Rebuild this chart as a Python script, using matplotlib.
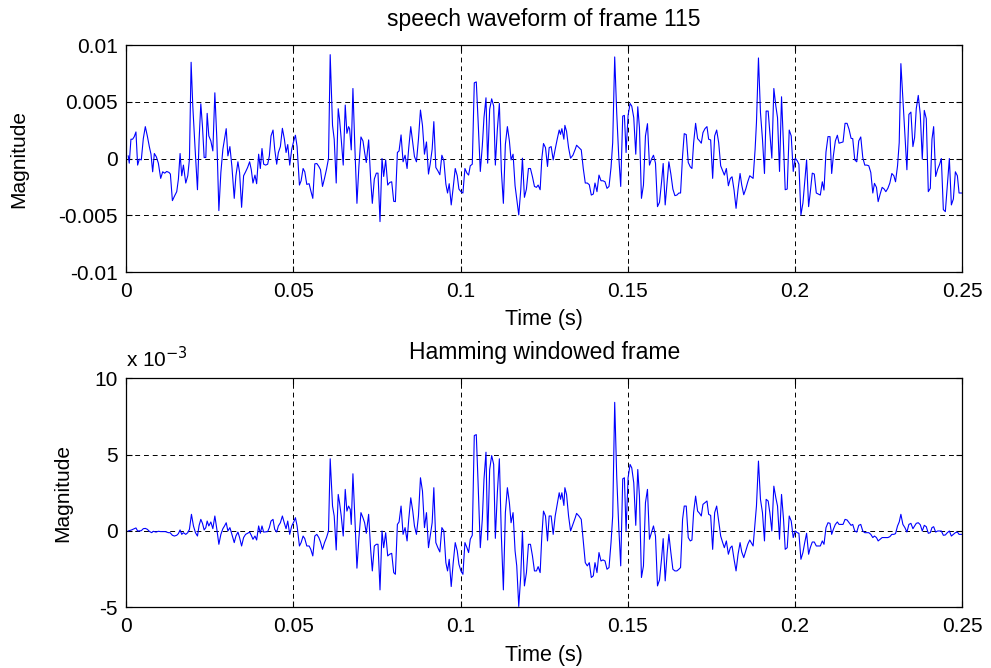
import matplotlib
matplotlib.use("Agg")
import matplotlib.pyplot as plt
import numpy as np

# ---- data (time in ms, magnitude in units of 1e-3) ----
t_top_ms = [0.6, 0.9, 1.4, 1.9, 2.4, 2.9, 3.4, 3.9, 4.5, 5.1, 5.7, 6.3, 6.9, 7.4, 7.9, 8.4, 9.0, 9.6,
            10.3, 10.9, 11.5, 12.1, 12.8, 13.2, 13.8, 14.5, 15.1, 15.6, 16.1, 16.6, 17.1, 17.8, 18.4, 18.9,
            19.4, 19.9, 20.6, 21.3, 21.8, 22.3, 22.8, 23.3, 23.8, 24.2, 24.7, 25.3, 25.9, 26.5, 27.1, 27.7,
            28.3, 28.9, 29.4, 29.9, 30.4, 31.0, 31.6, 32.3, 32.8, 33.4, 33.9, 34.5, 35.1, 35.7, 36.3, 36.9,
            37.4, 37.9, 38.5, 39.0, 39.6, 40.1, 40.6, 41.1, 41.7, 42.3, 42.8, 43.3, 43.9, 44.4, 45.0, 45.5,
            46.1, 46.7, 47.3, 47.8, 48.3, 48.9, 49.5, 50.1, 50.6, 51.1, 51.8, 52.3, 52.9, 53.4, 54.0, 54.7,
            55.2, 55.8, 56.4, 57.0, 57.6, 58.1, 58.7, 59.3, 59.9, 60.5, 61.0, 61.7, 62.2, 62.8, 63.4, 63.8,
            64.3, 64.9, 65.5, 66.0, 66.5, 66.8, 67.3, 67.8, 68.4, 69.0, 69.6, 70.2, 70.8, 71.3, 71.8, 72.5,
            73.1, 73.6, 74.2, 74.8, 75.3, 75.9, 76.5, 77.0, 77.6, 78.2, 78.8, 79.4, 80.0, 80.5, 81.1, 81.6,
            82.2, 82.8, 83.4, 84.0, 84.5, 85.1, 85.7, 86.2, 86.8, 87.4, 88.0, 88.6, 89.2, 89.8, 90.4, 90.9,
            91.5, 92.0, 92.6, 93.2, 93.8, 94.4, 95.0, 95.6, 96.1, 96.6, 97.2, 97.8, 98.4, 99.0, 99.5, 100.1,
            100.7, 101.3, 101.9, 102.4, 102.9, 103.5, 104.1, 104.7, 105.2, 105.9, 106.5, 107.0, 107.6, 108.1,
            108.7, 109.3, 109.9, 110.4, 111.0, 111.6, 112.2, 112.8, 113.4, 114.0, 114.6, 115.1, 115.7, 116.3,
            116.8, 117.4, 118.0, 118.5, 119.1, 119.7, 120.3, 120.9, 121.5, 122.1, 122.7, 123.2, 123.8, 124.3,
            124.8, 125.4, 126.0, 126.5, 127.1, 127.7, 128.3, 128.9, 129.5, 129.9, 130.3, 130.9, 131.2, 131.7,
            132.3, 132.9, 133.6, 134.3, 134.7, 135.4, 136.1, 136.7, 137.3, 137.9, 138.5, 139.1, 139.7, 140.2,
            140.8, 141.4, 142.0, 142.6, 143.2, 143.8, 144.4, 145.0, 145.5, 146.1, 146.7, 147.3, 147.9, 148.5,
            149.0, 149.5, 150.1, 150.7, 151.2, 151.8, 152.4, 153.0, 153.5, 154.1, 154.7, 155.3, 155.9, 156.5,
            157.1, 157.7, 158.3, 158.9, 159.5, 160.1, 160.6, 161.2, 161.8, 162.3, 162.9, 163.5, 164.1, 164.7,
            165.3, 165.8, 166.4, 166.9, 167.5, 168.1, 168.7, 169.2, 169.7, 170.3, 170.9, 171.5, 172.0, 172.5,
            173.1, 173.7, 174.2, 174.8, 175.4, 176.0, 176.6, 177.2, 177.8, 178.4, 178.9, 179.5, 180.1, 180.7,
            181.2, 181.8, 182.4, 183.0, 183.6, 184.1, 184.7, 185.3, 185.9, 186.5, 187.5, 188.1, 188.5, 189.1,
            189.7, 190.3, 190.9, 191.4, 192.0, 192.5, 193.1, 193.7, 194.3, 194.8, 195.4, 196.0, 196.6, 197.1,
            197.7, 198.3, 198.9, 199.5, 200.1, 200.7, 201.2, 201.8, 202.4, 202.9, 203.5, 204.1, 204.6, 205.2,
            205.8, 206.4, 207.0, 207.6, 208.2, 208.7, 209.3, 209.9, 210.5, 211.0, 211.5, 212.1, 212.7, 213.2,
            213.8, 214.4, 215.0, 215.6, 216.2, 216.8, 217.3, 217.9, 218.5, 219.1, 219.7, 220.3, 220.9, 221.5,
            222.1, 222.7, 223.3, 223.8, 224.4, 224.9, 225.5, 226.1, 226.7, 227.2, 227.8, 228.4, 229.0, 229.6,
            230.1, 230.7, 231.2, 231.7, 232.3, 232.9, 233.5, 234.1, 234.7, 235.3, 235.8, 236.3, 236.9, 237.5,
            238.1, 238.7, 239.3, 239.9, 240.5, 241.0, 241.5, 242.1, 242.7, 243.3, 243.8, 244.4, 245.0, 245.6,
            246.2, 246.8, 247.4, 248.0, 248.6, 249.1, 250.0]
v_top = [0.23, -0.41, 1.70, 1.70, 1.93, 2.34, -0.58, -0.06, -0.12, 1.75, 2.81, 1.99, 1.05, 0.38, -1.17, 0.44,
         0.15, -0.41, -1.75, -1.17, -1.29, -1.14, -1.23, -1.37, -3.71, -3.27, -2.92, -1.81, 0.44, -1.52, -0.58,
         -2.16, -1.52, -0.06, 8.48, 4.62, 0.82, -2.75, 1.70, 4.82, 2.81, 0.09, 0.09, 3.98, 1.99, 1.55, 0.67,
         5.79, 1.70, -4.59, -1.23, 0.82, 1.70, 2.63, 0.23, 1.05, -0.70, -3.51, -1.52, -0.29, -1.23, -4.30,
         -1.52, -1.17, -0.79, -0.29, -0.99, -2.16, -1.46, -2.22, 0.38, -0.88, 0.88, -0.50, -0.58, -0.50, 0.23,
         1.99, 2.51, 0.82, -0.50, 0.53, 1.05, 2.66, 1.70, 0.53, 1.23, -0.58, 0.82, 1.55, 2.05, 1.05, -2.34,
         -1.96, -0.88, -1.17, -2.28, -2.22, -2.84, -3.51, -0.47, -0.44, -0.70, -0.99, -2.46, -1.75, -0.94, 0.0,
         9.15, 2.92, 1.70, -2.16, 4.39, 3.45, 1.70, -0.58, 4.71, 2.22, 2.81, 2.63, 0.76, 6.17, 0.82, -3.95,
         -0.64, 1.90, 1.55, 0.53, -0.35, 1.64, -1.81, -3.95, -1.81, -1.29, -1.29, -5.56, 0.0, -1.58, -0.12,
         -2.34, -2.11, -2.05, -3.77, -3.80, 0.53, 0.67, 2.08, -0.29, 0.29, -0.88, 0.96, 2.81, 1.40, 0.18,
         -0.29, 1.70, 4.27, 2.92, 0.38, 1.46, -1.37, -0.50, 0.82, 3.25, -0.79, -1.08, -1.43, 0.29, -0.20,
         -2.25, -3.04, -2.22, -4.09, -2.54, -0.88, -1.52, -2.69, -2.92, -3.04, -0.88, -1.29, -1.46, -0.64,
         -0.50, 6.67, 6.75, 3.60, -1.14, 1.11, 3.60, 5.35, -0.41, 4.33, 5.26, 4.62, -0.58, 2.57, 4.85, -1.08,
         -3.95, 1.26, 2.81, 1.55, -0.12, 0.38, -2.40, -3.57, -4.97, -2.75, 0.03, -3.42, -2.69, -0.88, -0.88,
         -1.61, -2.46, -2.54, -2.34, -2.75, 0.0, 1.32, 0.96, -0.70, 0.96, 1.05, -0.12, 0.82, 1.70, 2.51, 2.13,
         2.63, 1.70, 2.92, 2.39, 0.96, 0.03, 0.29, 0.82, 1.17, 0.96, 0.76, -0.88, -2.16, -2.16, -2.31, -3.22,
         -3.13, -2.16, -2.92, -1.46, -1.96, -1.96, -2.05, -2.63, -2.46, -0.79, 1.40, 8.95, 4.04, 0.23, -2.46,
         3.74, 3.80, 0.53, 3.80, 4.85, 4.62, 3.60, 0.38, 4.56, 2.72, -3.51, -2.34, 1.99, 3.07, -0.58, -0.06,
         0.29, -0.41, -4.24, -3.86, -2.11, -0.44, -4.09, -1.96, -0.29, -1.37, -2.69, -3.27, -3.22, -3.04,
         -3.04, 0.23, 2.19, 2.11, -0.35, -0.73, -0.88, 1.35, 3.10, 1.75, 1.55, 1.35, 2.28, 2.63, 2.81, 1.70,
         1.64, -1.75, 1.99, 2.51, 1.40, -0.64, -1.08, -1.46, -0.88, -2.40, -1.75, -1.61, -2.78, -4.39, -2.69,
         -1.32, -2.34, -3.19, -2.69, -2.05, -1.52, -1.75, 0.82, 3.16, 8.86, 4.04, 1.70, -1.32, 4.18, 4.18,
         2.28, 0.03, 6.17, 4.62, 3.60, -1.14, 5.44, 1.11, -2.75, -2.69, 2.51, 1.99, -1.14, 0.03, -0.20, -0.50,
         -4.97, -3.92, -2.16, -0.12, -4.24, -2.98, -1.29, -1.37, -3.04, -3.13, -3.22, -2.05, -2.78, 0.58, 1.93,
         1.93, -1.32, 0.23, 1.55, 2.05, 1.35, 1.40, 1.46, 3.10, 3.10, 2.57, 1.78, 1.75, -0.12, -0.29, 1.55,
         1.90, 0.09, -0.58, -0.58, -0.64, -1.23, -3.04, -2.19, -2.54, -3.80, -3.13, -2.54, -2.69, -2.92,
         -2.63, -2.16, -1.32, -1.52, -2.05, -0.64, 1.40, 8.36, 5.20, 1.99, -0.99, 3.89, 4.09, 1.05, 1.84,
         4.39, 5.56, 3.89, -0.06, 4.24, 3.51, -2.92, -2.63, 1.70, 2.81, -1.58, -0.94, -0.50, 0.0, -4.50,
         -4.68, -2.40, 0.0, -4.09, -3.57, -1.17, -1.52, -3.04, -3.04]

t_bot_ms = [0.6, 1.6, 2.9, 3.4, 4.5, 5.1, 5.7, 6.3, 6.9, 7.6, 8.1, 8.9, 9.6, 10.3, 11.7, 12.6, 13.1, 13.8,
            14.4, 15.1, 15.6, 16.1, 16.6, 17.1, 17.8, 18.4, 18.9, 19.5, 20.1, 20.7, 21.3, 21.8, 22.3, 22.8,
            23.3, 23.8, 24.2, 24.7, 25.3, 25.9, 26.5, 27.1, 27.7, 28.3, 28.9, 29.4, 29.9, 30.4, 31.0, 31.6,
            32.3, 32.8, 33.4, 33.9, 34.5, 35.1, 35.7, 36.3, 36.9, 37.4, 37.9, 38.5, 39.0, 39.6, 40.1, 40.6,
            41.1, 42.3, 42.8, 43.3, 43.9, 44.4, 45.0, 45.5, 46.1, 46.7, 47.3, 47.8, 48.3, 48.9, 49.5, 50.1,
            50.6, 51.1, 51.8, 52.3, 52.9, 53.4, 54.0, 54.7, 55.2, 55.8, 56.4, 57.0, 57.6, 58.1, 58.7, 59.3,
            59.9, 60.5, 61.0, 61.7, 62.2, 62.8, 63.4, 63.8, 64.3, 64.9, 65.5, 66.0, 66.5, 67.0, 67.3, 67.8,
            68.4, 69.0, 69.6, 70.2, 70.8, 71.3, 71.8, 72.5, 73.1, 73.6, 74.2, 74.8, 75.3, 75.9, 76.5, 77.0,
            77.6, 78.2, 78.8, 79.4, 80.0, 80.5, 81.1, 81.6, 82.2, 82.8, 83.4, 84.0, 84.5, 85.1, 85.7, 86.2,
            86.8, 87.4, 88.0, 88.6, 89.2, 89.8, 90.4, 90.9, 91.5, 92.0, 92.6, 93.2, 93.8, 94.4, 95.0, 95.6,
            96.1, 96.6, 97.2, 97.8, 98.4, 99.0, 99.5, 100.1, 100.7, 101.3, 101.9, 102.4, 102.9, 103.5, 104.1,
            104.7, 105.2, 105.9, 106.5, 107.0, 107.6, 108.1, 108.7, 109.3, 109.9, 110.4, 111.0, 111.6, 112.2,
            112.8, 113.4, 114.0, 114.6, 115.1, 115.7, 116.3, 116.8, 117.4, 118.0, 118.5, 119.1, 119.7, 120.3,
            120.9, 121.5, 122.1, 122.7, 123.2, 123.8, 124.3, 124.8, 125.4, 126.0, 126.5, 127.1, 127.7, 128.3,
            128.9, 129.5, 129.9, 130.3, 130.9, 131.2, 131.7, 132.3, 132.9, 133.6, 134.3, 134.7, 135.4, 136.1,
            136.7, 137.3, 137.9, 138.5, 139.1, 139.7, 140.2, 140.8, 141.4, 142.0, 142.6, 143.2, 143.8, 144.4,
            145.0, 145.5, 146.1, 146.7, 147.3, 147.9, 148.5, 149.0, 149.5, 150.1, 150.7, 151.2, 151.8, 152.4,
            153.0, 153.5, 154.1, 154.7, 155.3, 155.9, 156.5, 157.1, 157.7, 158.3, 158.9, 159.5, 160.1, 160.6,
            161.2, 161.8, 162.3, 162.9, 163.5, 164.1, 164.7, 165.3, 165.8, 166.4, 166.9, 167.5, 168.1, 168.7,
            169.2, 169.7, 170.3, 170.9, 171.5, 172.0, 172.5, 173.1, 173.7, 174.2, 174.8, 175.4, 176.0, 176.6,
            177.2, 177.8, 178.4, 178.9, 179.5, 180.1, 180.7, 181.2, 181.8, 182.4, 183.0, 183.6, 184.1, 184.7,
            185.3, 185.9, 186.5, 187.5, 188.1, 188.5, 189.1, 189.7, 190.3, 190.9, 191.4, 192.0, 192.5, 193.1,
            193.7, 194.3, 194.8, 195.4, 196.0, 196.6, 197.1, 197.7, 198.3, 198.9, 199.5, 200.1, 200.7, 201.2,
            201.8, 202.4, 202.9, 203.5, 204.1, 204.6, 205.2, 205.8, 206.4, 207.0, 207.6, 208.2, 208.7, 209.3,
            209.9, 210.5, 211.0, 211.5, 212.1, 212.7, 213.2, 213.8, 214.4, 215.0, 215.6, 216.2, 216.8, 217.3,
            217.9, 218.5, 219.1, 219.7, 220.3, 220.9, 221.5, 222.1, 222.7, 223.3, 223.8, 224.4, 224.9, 225.5,
            226.1, 226.7, 227.2, 227.8, 228.4, 229.0, 229.6, 230.1, 230.7, 231.2, 231.7, 232.3, 232.9, 233.5,
            234.1, 234.7, 235.3, 235.8, 236.3, 236.9, 237.5, 238.1, 238.7, 239.3, 239.9, 240.5, 241.0, 241.5,
            242.1, 242.7, 243.8, 244.4, 245.0, 245.6, 246.2, 246.8, 247.4, 248.0, 248.6, 249.1, 250.0]
v_bot = [0.0, 0.07, 0.20, 0.0, 0.02, 0.15, 0.17, 0.11, -0.02, -0.11, -0.02, -0.07, -0.02, -0.04, -0.04, -0.11,
         -0.11, -0.28, -0.33, -0.28, -0.17, 0.07, -0.22, -0.11, -0.22, -0.11, 0.11, 1.09, 0.33, -0.11, -0.33,
         0.37, 0.76, 0.50, 0.07, 0.22, 0.65, 0.33, 0.59, 0.15, 0.98, 0.11, -0.87, -0.22, 0.15, 0.33, 0.54, 0.0,
         0.22, -0.22, -0.76, -0.33, -0.07, -0.43, -0.98, -0.43, -0.22, -0.15, -0.07, -0.28, -0.54, -0.33, -0.59,
         0.33, -0.15, 0.33, -0.07, -0.04, 0.22, 0.65, 0.76, 0.11, -0.07, 0.33, 0.54, 0.98, 0.50, 0.15, 0.65,
         -0.22, 0.33, 0.59, 0.87, 0.33, -0.98, -0.76, -0.33, -0.50, -0.98, -0.98, -1.20, -1.63, -0.33, -0.22,
         -0.43, -0.72, -1.20, -0.76, -0.43, 0.0, 4.72, 1.63, 0.98, -1.24, 2.39, 1.85, 0.98, -0.33, 2.72, 1.30,
         1.63, 1.41, 0.43, 3.74, 0.76, -2.43, -0.43, 1.20, 0.87, 0.54, -0.15, 1.09, -1.20, -2.61, -0.98, -0.87,
         -0.87, -3.85, 0.0, -1.09, -0.11, -1.63, -1.52, -1.46, -2.72, -2.83, 0.43, 0.59, 1.63, -0.22, 0.22,
         -0.65, 0.76, 2.17, 1.30, 0.33, -0.22, 0.98, 3.48, 2.61, 0.22, 1.20, -1.09, -0.33, 0.54, 2.83, -0.76,
         -1.09, -1.37, 0.22, 0.0, -2.07, -2.61, -1.85, -3.63, -2.07, -0.76, -1.30, -2.17, -2.61, -2.83, -0.76,
         -1.09, -1.41, -0.54, -0.28, 6.24, 6.30, 3.37, -1.09, 0.76, 3.37, 5.15, -0.59, 4.02, 4.93, 4.35, -0.48,
         2.50, 4.72, -0.33, -3.85, 1.20, 2.83, 1.85, 0.54, 1.20, -1.30, -2.28, -4.93, -2.93, 0.0, -3.59, -2.72,
         -0.87, -0.87, -1.63, -2.61, -2.61, -2.33, -2.72, -0.33, 1.30, 0.98, -0.65, 0.98, 0.98, -0.22, 0.98,
         1.74, 2.50, 2.07, 2.50, 1.67, 2.83, 2.39, 0.98, 0.0, 0.43, 0.87, 1.15, 0.98, 0.76, -0.65, -2.07, -2.28,
         -2.07, -3.04, -2.93, -2.07, -2.72, -1.41, -1.96, -1.89, -1.96, -2.50, -2.39, -0.76, 0.98, 8.41, 3.59,
         0.33, -2.28, 3.41, 3.48, 0.0, 3.48, 4.35, 4.13, 3.15, 0.37, 4.02, 2.28, -3.04, -2.28, 1.85, 2.72,
         -0.54, -0.11, 0.33, -0.33, -3.59, -3.20, -1.85, -0.50, -3.26, -1.41, -0.22, -1.41, -2.50, -2.61, -2.61,
         -2.50, -2.39, 0.76, 1.63, 1.63, -0.43, -0.65, -0.59, 1.20, 2.28, 1.30, 1.15, 0.98, 1.74, 1.85, 1.96,
         1.09, 1.02, -1.20, 1.20, 1.63, 0.65, -0.33, -0.76, -1.09, -0.65, -1.52, -1.09, -0.98, -1.85, -2.61,
         -1.52, -0.76, -1.37, -1.74, -1.30, -0.87, -0.59, -0.98, 0.54, 1.63, 4.57, 2.07, 1.20, -0.65, 2.07,
         1.96, 1.20, 0.0, 2.93, 2.17, 1.63, -0.54, 2.39, 0.76, -1.20, -1.09, 0.98, 0.65, -0.43, 0.0, -0.11,
         -0.15, -1.85, -1.41, -0.80, -0.15, -1.52, -1.09, -0.72, -0.72, -0.98, -0.98, -0.98, -0.65, -0.87,
         0.22, 0.54, 0.50, -0.22, 0.11, 0.43, 0.59, 0.43, 0.43, 0.43, 0.76, 0.72, 0.54, 0.37, 0.43, 0.0, -0.07,
         0.37, 0.43, 0.0, -0.11, -0.11, -0.11, -0.22, -0.43, -0.33, -0.43, -0.65, -0.54, -0.43, -0.43, -0.43,
         -0.43, -0.37, -0.22, -0.22, -0.17, 0.33, 0.59, 1.09, 0.43, 0.22, -0.07, 0.43, 0.50, 0.15, 0.33, 0.50,
         0.54, 0.41, 0.0, 0.37, 0.28, -0.15, -0.11, 0.22, 0.28, -0.07, 0.0, 0.0, -0.28, -0.26, -0.11, 0.0,
         -0.33, -0.22, -0.11, -0.07, -0.22, -0.22]

x_ticks = [0, 0.05, 0.1, 0.15, 0.2, 0.25]
x_tick_labels = ['0', '0.05', '0.1', '0.15', '0.2', '0.25']
top_y_ticks = [-0.01, -0.005, 0, 0.005, 0.01]
top_y_labels = ['-0.01', '-0.005', '0', '0.005', '0.01']
bot_y_ticks = [-5, 0, 5, 10]
bot_y_labels = ['-5', '0', '5', '10']

top_title = 'speech waveform of frame 115'
bot_title = 'Hamming windowed frame'

plt.rcParams['font.family'] = ['Liberation Sans', 'DejaVu Sans']

fig = plt.figure(figsize=(9.91, 6.68), dpi=100)
L, W = 0.1274, 0.8434
ax1 = fig.add_axes([L, 0.5928, W, 0.3398])
ax2 = fig.add_axes([L, 0.0906, W, 0.3435])

t_top = np.array(t_top_ms) / 1000.0
y_top = np.array(v_top) * 1e-3
t_bot = np.array(t_bot_ms) / 1000.0
y_bot = np.array(v_bot)

ax1.plot(t_top, y_top, color='#0000ff', lw=0.8)
ax2.plot(t_bot, y_bot, color='#0000ff', lw=0.8)

for ax in (ax1, ax2):
    ax.set_xlim(0, 0.25)
    ax.set_xticks(x_ticks)
    ax.set_xticklabels(x_tick_labels)
    ax.grid(True, color='black', linestyle=(0, (5, 4)), linewidth=0.7)
    ax.tick_params(direction='in', length=4, labelsize=15, top=True, right=True, width=0.8)
    ax.tick_params(axis='x', pad=7)
    ax.tick_params(axis='y', pad=6)
    ax.set_xlabel('Time (s)', fontsize=15.5, labelpad=6)
    for s in ax.spines.values():
        s.set_linewidth(0.9)

ax1.set_ylabel('Magnitude', fontsize=15, labelpad=22)
ax2.set_ylabel('Magnitude', fontsize=15, labelpad=16)

ax1.set_ylim(-0.01, 0.01)
ax1.set_yticks(top_y_ticks)
ax1.set_yticklabels(top_y_labels)
ax1.set_title(top_title, fontsize=16.5, pad=14)

ax2.set_ylim(-5, 10)
ax2.set_yticks(bot_y_ticks)
ax2.set_yticklabels(bot_y_labels)
ax2.set_title(bot_title, fontsize=16.5, pad=14)
ax2.text(0.0, 1.03, r'x 10$^{-3}$', transform=ax2.transAxes, fontsize=15, ha='left', va='bottom')

fig.savefig('out.png', dpi=100)
